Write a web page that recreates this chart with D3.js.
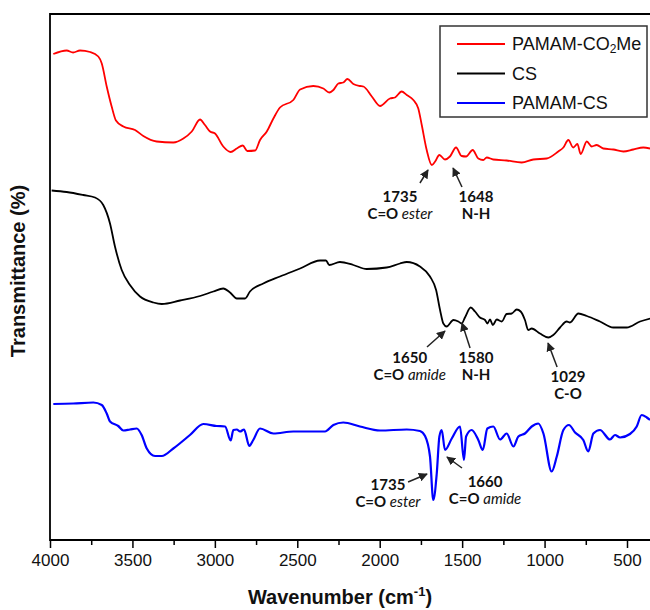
<!DOCTYPE html>
<html>
	<head>
		<script src="https://d3js.org/d3.v7.min.js"></script>
		<style>
			body { margin: 0; background: #fff; }
		</style>
	</head>
	<body>
		<script>
			// spectra: [wavenumber (cm-1), transmittance (offset, a.u.)]
			var pamam_co2me = [
				[3980,97.2],[3899,97.9],[3860,97.5],[3818,97.9],[3757,97.6],[3707,96.7],[3686,95.3],[3656,90.7],
				[3626,86.7],[3600,83.9],[3555,82.7],[3484,82],[3434,80.8],[3353,79.7],[3252,79.5],[3191,80.3],
				[3140,81.7],[3090,84.1],[3060,83],[3029,81.7],[2999,81.3],[2949,78.7],[2904,77.6],[2867,78.3],
				[2831,78.9],[2803,77.8],[2756,77.9],[2726,80],[2685,81.7],[2645,84.3],[2605,86.5],[2524,88],
				[2483,90.1],[2403,90.8],[2342,90.3],[2306,89.5],[2281,90],[2251,91.3],[2221,91.5],[2196,92.2],
				[2160,91.2],[2120,90.8],[2099,90.7],[2048,88.7],[1998,86.8],[1938,88.3],[1907,88.5],[1867,89.7],
				[1836,89],[1796,88],[1766,86.3],[1745,83],[1715,78],[1684,75],[1664,75.7],[1638,77],
				[1604,76.1],[1574,76.7],[1537,78.5],[1503,76.8],[1476,76.7],[1436,78],[1402,76.3],[1372,76],
				[1351,76.5],[1311,76.1],[1230,75.9],[1139,75.5],[1068,76.1],[987,76.3],[917,77.7],[886,78.5],
				[856,80],[826,78.5],[801,79.2],[781,77.2],[744,79.7],[714,78.7],[684,79],[644,78.3],
				[583,78.1],[522,77.7],[462,78.1],[401,78.5],[360,78.3]
			];
			var cs = [
				[3990,69.9],[3899,69.6],[3798,69],[3727,68.5],[3677,67],[3636,63.3],[3606,58.7],[3565,54],
				[3515,51],[3454,48.7],[3373,47.5],[3322,47.2],[3211,47.9],[3090,48.8],[3009,49.7],[2949,50.3],
				[2908,49.5],[2867,48.3],[2817,48.3],[2787,49.7],[2706,51.3],[2605,52.7],[2483,54.3],[2362,55.9],
				[2326,55.9],[2306,55],[2241,55.6],[2160,55],[2079,54.2],[1958,54.5],[1877,55.3],[1836,55.6],
				[1756,54.7],[1695,52.7],[1658,50],[1634,46],[1614,43.3],[1594,42.7],[1553,44],[1523,43.7],
				[1503,43.3],[1483,44.5],[1448,46.5],[1422,45.7],[1392,44.5],[1361,44],[1347,43.3],[1331,44.1],
				[1314,43],[1290,44.1],[1260,43.7],[1230,45.2],[1199,45.3],[1169,46.1],[1145,45.7],[1119,44],
				[1099,42],[1078,42.3],[1028,41.3],[977,40.5],[947,41],[906,42.5],[866,43.7],[846,43.5],
				[795,45.3],[744,44.8],[664,43.7],[583,42.5],[502,42.5],[421,43.7],[360,44.3]
			];
			var pamam_cs = [
				[3980,27.2],[3859,27.3],[3737,27.5],[3686,27],[3656,25.3],[3636,23.7],[3586,22.8],[3555,21.9],
				[3515,22.1],[3474,22.3],[3444,21],[3413,18.3],[3363,16.8],[3322,16.8],[3252,18.3],[3151,21],
				[3070,23.2],[2989,22.8],[2938,22.7],[2904,19.9],[2888,22],[2867,22.1],[2847,21.7],[2823,22.1],
				[2791,18.8],[2767,20],[2726,22.3],[2645,21.3],[2524,21.7],[2332,21.7],[2281,23],[2221,23.5],
				[2120,22.7],[1998,21.9],[1836,22.1],[1756,21.8],[1725,20.8],[1695,16.7],[1675,8],[1654,13.3],
				[1638,20.7],[1624,22],[1604,18],[1563,20.3],[1513,22.7],[1489,16],[1476,20.7],[1442,22],
				[1402,20],[1375,18],[1347,22.3],[1311,22.7],[1270,20.1],[1230,21.3],[1189,18.7],[1159,20.7],
				[1119,21.3],[1078,22.7],[1038,23.3],[1007,21.3],[957,13.7],[926,16.7],[886,22],[852,23],
				[815,21.5],[765,20],[735,17.7],[704,21.3],[664,22],[603,20.1],[573,21],[542,20.5],
				[482,21.2],[441,22.7],[411,25],[380,24.5],[360,24]
			];

			var series_names = ["PAMAM-CO2Me", "CS", "PAMAM-CS"];
			var series_colors = ["#ff0000", "#000000", "#0000ff"];
			var x_ticks = [4000, 3500, 3000, 2500, 2000, 1500, 1000, 500];
			var x_minor = [3750, 3250, 2750, 2250, 1750, 1250, 750];

			// annotations: label lines, label position [wn, T], arrow tail, arrow tip
			var notes = [
				{ lines: [["1735"], ["C=O ", "ester"]], at: [1877, 67.6], tail: [1756, 71.4], tip: [1707, 74] },
				{ lines: [["1648"], ["N-H"]], at: [1416, 67.6], tail: [1501, 70.6], tip: [1555, 74.4] },
				{ lines: [["1650"], ["C=O ", "amide"]], at: [1818, 35.4], tail: [1713, 38.6], tip: [1604, 41.8] },
				{ lines: [["1580"], ["N-H"]], at: [1416, 35.4], tail: [1452, 38.4], tip: [1501, 43.4] },
				{ lines: [["1029"], ["C-O"]], at: [858, 31.6], tail: [924, 34.6], tip: [979, 39.4] },
				{ lines: [["1735"], ["C=O ", "ester"]], at: [1950, 10], tail: [1828, 11.6], tip: [1713, 13.2] },
				{ lines: [["1660"], ["C=O ", "amide"]], at: [1361, 10.6], tail: [1501, 14.4], tip: [1592, 16.6] }
			];

			var width = 650, height = 610;
			var m_left = 50, m_top = 14, m_bottom = 540;

			var svg = d3.select("body").append("svg")
				.attr("width", width)
				.attr("height", height);

			var x = d3.scaleLinear().domain([4000, 500]).range([m_left, 627]);
			var y = d3.scaleLinear().domain([0, 105.2]).range([m_bottom, m_top]);

			var defs = svg.append("defs");
			defs.append("clipPath").attr("id", "clip")
				.append("rect").attr("x", m_left).attr("y", m_top).attr("width", width - m_left).attr("height", m_bottom - m_top);

			defs.append("marker")
				.attr("id", "arrow")
				.attr("viewBox", "0 0 10 10")
				.attr("refX", 9).attr("refY", 5)
				.attr("markerWidth", 6).attr("markerHeight", 6)
				.attr("orient", "auto")
				.append("path")
				.attr("d", "M0,0 L10,5 L0,10 z")
				.attr("fill", "#222");

			// frame
			svg.append("path")
				.attr("d", "M" + width + "," + m_top + "H" + m_left + "V" + m_bottom + "H" + width)
				.attr("fill", "none")
				.attr("stroke", "#000")
				.attr("stroke-width", 1.8);

			// x axis ticks
			var xAxis = d3.axisBottom(x).tickValues(x_ticks).tickSize(8).tickPadding(6).tickFormat(d3.format("d"));
			var gx = svg.append("g").attr("transform", "translate(0," + m_bottom + ")").call(xAxis);
			gx.select(".domain").remove();
			gx.selectAll("line").attr("stroke-width", 1.5);
			gx.selectAll("text")
				.attr("font-family", "Liberation Sans, Arial, sans-serif")
				.attr("font-size", 17)
				.attr("fill", "#111");
			var gm = svg.append("g").attr("transform", "translate(0," + m_bottom + ")")
				.call(d3.axisBottom(x).tickValues(x_minor).tickSize(5).tickFormat(""));
			gm.select(".domain").remove();
			gm.selectAll("line").attr("stroke-width", 1.5);

			// axis titles
			var xt = svg.append("text")
				.attr("x", 340).attr("y", 604)
				.attr("text-anchor", "middle")
				.attr("font-family", "Liberation Sans, Arial, sans-serif")
				.attr("font-weight", "bold")
				.attr("font-size", 20)
				.attr("fill", "#111");
			xt.append("tspan").text("Wavenumber (cm");
			xt.append("tspan").attr("font-size", 13).attr("dy", -8).text("-1");
			xt.append("tspan").attr("dy", 8).text(")");

			svg.append("text")
				.attr("transform", "translate(25,271) rotate(-90)")
				.attr("text-anchor", "middle")
				.attr("font-family", "Liberation Sans, Arial, sans-serif")
				.attr("font-weight", "bold")
				.attr("font-size", 20)
				.attr("fill", "#111")
				.text("Transmittance (%)");

			// spectra
			var line = d3.line()
				.x(function (d) { return x(d[0]); })
				.y(function (d) { return y(d[1]); })
				.curve(d3.curveMonotoneX);

			var plot = svg.append("g").attr("clip-path", "url(#clip)");
			[pamam_co2me, cs, pamam_cs].forEach(function (s, i) {
				plot.append("path")
					.datum(s)
					.attr("d", line)
					.attr("fill", "none")
					.attr("stroke", series_colors[i])
					.attr("stroke-width", i == 2 ? 2.2 : 1.8)
					.attr("stroke-linejoin", "round");
			});

			// annotations
			notes.forEach(function (n) {
				svg.append("line")
					.attr("x1", x(n.tail[0])).attr("y1", y(n.tail[1]))
					.attr("x2", x(n.tip[0])).attr("y2", y(n.tip[1]))
					.attr("stroke", "#222")
					.attr("stroke-width", 1.5)
					.attr("marker-end", "url(#arrow)");
				n.lines.forEach(function (parts, k) {
					var t = svg.append("text")
						.attr("x", x(n.at[0]))
						.attr("y", y(n.at[1]) + k * 17)
						.attr("text-anchor", "middle")
						.attr("font-family", "Lato, sans-serif")
						.attr("font-size", 15)
						.attr("fill", "#111");
					t.append("tspan").attr("font-weight", "bold").text(parts[0]);
					if (parts[1]) t.append("tspan").attr("font-style", "italic").text(parts[1]);
				});
			});

			// legend
			var lg = svg.append("g");
			lg.append("rect")
				.attr("x", 440).attr("y", 26).attr("width", 207).attr("height", 91)
				.attr("fill", "#fff")
				.attr("stroke", "#333")
				.attr("stroke-width", 1.5);
			series_names.forEach(function (name, i) {
				var ly = 44 + i * 29.5;
				lg.append("line")
					.attr("x1", 457).attr("x2", 505)
					.attr("y1", ly).attr("y2", ly)
					.attr("stroke", series_colors[i])
					.attr("stroke-width", 2);
				var t = lg.append("text")
					.attr("x", 512).attr("y", ly + 6)
					.attr("font-family", "Liberation Sans, Arial, sans-serif")
					.attr("font-size", 18)
					.attr("fill", "#111");
				if (name == "PAMAM-CO2Me") {
					t.append("tspan").text("PAMAM-CO");
					t.append("tspan").attr("font-size", 12).attr("dy", 3).text("2");
					t.append("tspan").attr("dy", -3).text("Me");
				} else {
					t.text(name);
				}
			});
		</script>
	</body>
</html>
